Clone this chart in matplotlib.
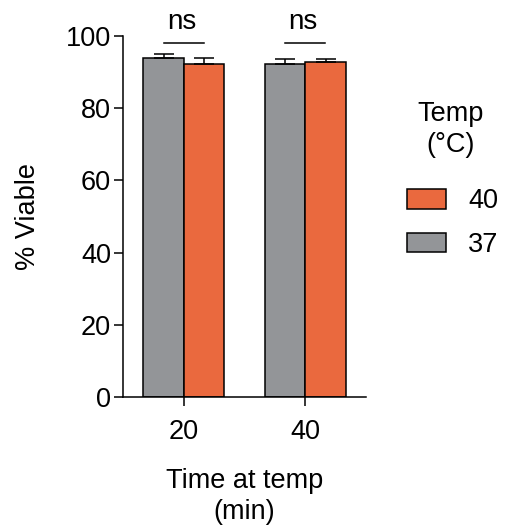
import matplotlib
matplotlib.use("Agg")
from matplotlib import pyplot as plt
from matplotlib.patches import Patch
import numpy as np

times = ["20", "40"]
temps = ["37", "40"]
viable_37 = [94.0, 92.3]
viable_40 = [92.2, 92.8]
err_37 = [1.1, 1.4]
err_40 = [1.8, 0.8]
sig_labels = ["ns", "ns"]

gray = "#939598"
orange = "#EA693E"

plt.rcParams["font.family"] = ["Liberation Sans", "DejaVu Sans"]
plt.rcParams["font.size"] = 19.5

fig = plt.figure(figsize=(5.05, 5.29), dpi=100)
ax = fig.add_axes([0.2436, 0.2495, 0.4812, 0.6825])

x = np.arange(len(times))
w = 0.333

# only upper error bars, like prism
ax.bar(x - w / 2, viable_37, w, color=gray, edgecolor="black", linewidth=1.1,
       yerr=[np.zeros(len(err_37)), err_37], capsize=7.2,
       error_kw=dict(elinewidth=1.1, capthick=1.1, clip_on=False), zorder=2)
ax.bar(x + w / 2, viable_40, w, color=orange, edgecolor="black", linewidth=1.1,
       yerr=[np.zeros(len(err_40)), err_40], capsize=7.2,
       error_kw=dict(elinewidth=1.1, capthick=1.1, clip_on=False), zorder=2)

for i, s in enumerate(sig_labels):
    ax.plot([x[i] - 0.165, x[i] + 0.165], [98.1, 98.1], color="black",
            linewidth=1.1, clip_on=False)
    ax.text(x[i] - 0.02, 102.0, s, ha="center", va="baseline", fontsize=20)

ax.set_xlim(-0.5, 1.5)
ax.set_ylim(0, 100)
ax.set_yticks([0, 20, 40, 60, 80, 100])
ax.set_xticks(x)
ax.set_xticklabels(times)
ax.spines["top"].set_visible(False)
ax.spines["right"].set_visible(False)
for sp in ["left", "bottom"]:
    ax.spines[sp].set_linewidth(1.1)
ax.tick_params(length=6.5, width=1.1)
ax.tick_params(axis="y", pad=2)
ax.tick_params(axis="x", pad=9)
ax.set_ylabel("% Viable", labelpad=18)
ax.set_xlabel("Time at temp\n(min)", labelpad=17, linespacing=1.22)

# legend title as separate text so the gap under it can be bigger
fig.text(0.893, 0.702, "Temp\n(°C)", ha="center", va="bottom",
         multialignment="center", linespacing=1.25)
handles = [Patch(facecolor=orange, edgecolor="black", linewidth=1.1),
           Patch(facecolor=gray, edgecolor="black", linewidth=1.1)]
fig.legend(handles, ["40", "37"], frameon=False,
           loc="upper left", bbox_to_anchor=(0.758, 0.69),
           handlelength=1.45, handleheight=0.72, labelspacing=0.64,
           handletextpad=0.8)

fig.savefig("out.png", dpi=100)
